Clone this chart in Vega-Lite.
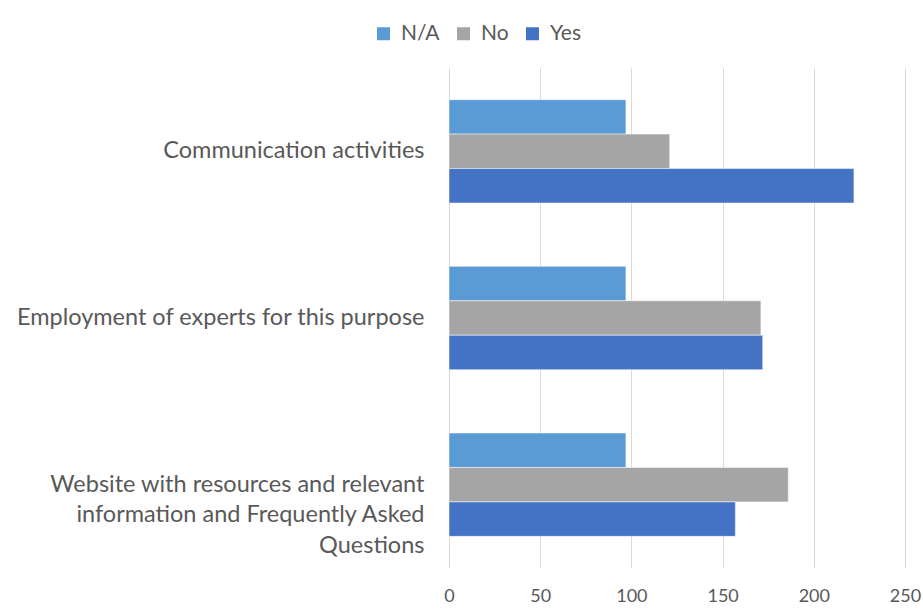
{
  "$schema": "https://vega.github.io/schema/vega-lite/v6.json",
  "autosize": "none",
  "padding": {"left": 449, "top": 68, "right": 18, "bottom": 42},
  "width": 456,
  "height": 500,
  "background": "white",
  "config": {
    "view": {"stroke": null},
    "font": "Lato",
    "axis": {"labelColor": "#595959", "labelFont": "Lato"},
    "legend": {"labelColor": "#595959", "labelFont": "Lato"}
  },
  "data": {
    "values": [
      {"item": "Communication activities", "answer": "N/A", "count": 97},
      {"item": "Communication activities", "answer": "No", "count": 121},
      {"item": "Communication activities", "answer": "Yes", "count": 222},
      {"item": "Employment of experts for this purpose", "answer": "N/A", "count": 97},
      {"item": "Employment of experts for this purpose", "answer": "No", "count": 171},
      {"item": "Employment of experts for this purpose", "answer": "Yes", "count": 172},
      {"item": "Website with resources and relevant information and Frequently Asked Questions", "answer": "N/A", "count": 97},
      {"item": "Website with resources and relevant information and Frequently Asked Questions", "answer": "No", "count": 186},
      {"item": "Website with resources and relevant information and Frequently Asked Questions", "answer": "Yes", "count": 157}
    ]
  },
  "mark": {"type": "bar", "stroke": "white", "strokeWidth": 0.5},
  "encoding": {
    "y": {
      "field": "item",
      "type": "nominal",
      "sort": ["Communication activities", "Employment of experts for this purpose", "Website with resources and relevant information and Frequently Asked Questions"],
      "scale": {"paddingInner": 0.38, "paddingOuter": 0.19},
      "axis": {
        "title": null,
        "domain": false,
        "ticks": false,
        "grid": false,
        "labelPadding": 25,
        "labelFontSize": 23.5,
        "labelLimit": 0,
        "labelLineHeight": 30.5,
        "labelExpr": "indexof(datum.value, 'Website') === 0 ? ['Website with resources and relevant', 'information and Frequently Asked', 'Questions'] : datum.value"
      }
    },
    "yOffset": {
      "field": "answer",
      "type": "nominal",
      "sort": ["N/A", "No", "Yes"],
      "scale": {"paddingInner": 0, "paddingOuter": 0}
    },
    "x": {
      "field": "count",
      "type": "quantitative",
      "scale": {"domain": [0, 250], "nice": false},
      "axis": {
        "title": null,
        "values": [0, 50, 100, 150, 200, 250],
        "domain": false,
        "ticks": false,
        "grid": true,
        "gridColor": "#d9d9d9",
        "gridWidth": 1,
        "labelPadding": 19,
        "labelFontSize": 18,
        "labelFlush": false
      }
    },
    "color": {
      "field": "answer",
      "type": "nominal",
      "scale": {"domain": ["N/A", "No", "Yes"], "range": ["#5B9BD5", "#A5A5A5", "#4472C4"]},
      "legend": {
        "title": null,
        "orient": "none",
        "direction": "horizontal",
        "legendX": -76,
        "legendY": -45,
        "symbolType": "square",
        "symbolSize": 169,
        "symbolStrokeWidth": 0,
        "labelFontSize": 21,
        "labelOffset": 7,
        "columnPadding": 13
      }
    }
  }
}
